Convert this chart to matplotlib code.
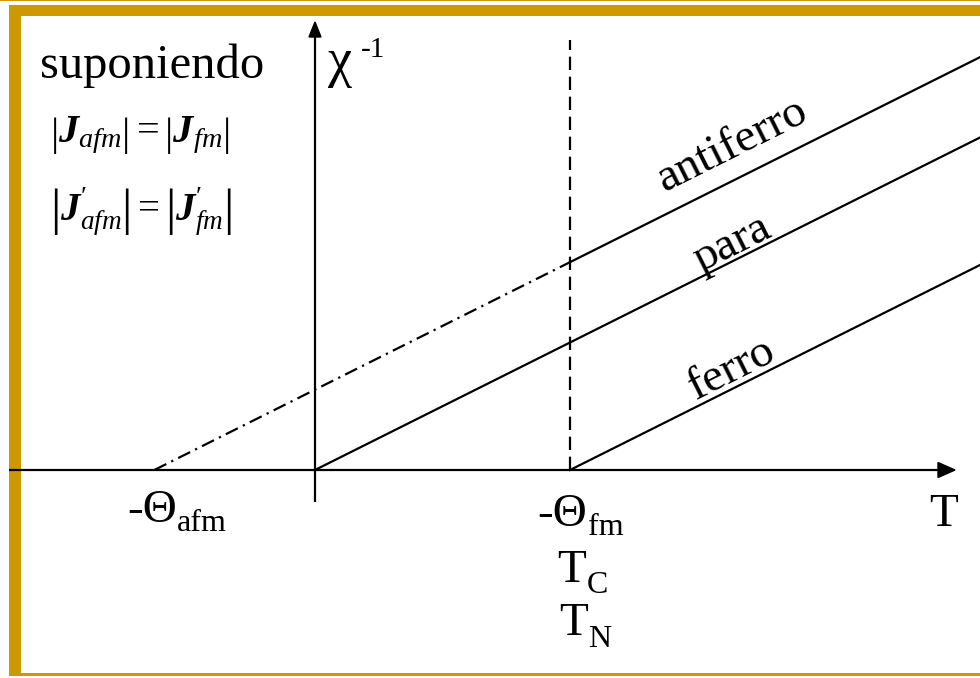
import matplotlib.pyplot as plt
from matplotlib.patches import Rectangle, FancyArrow

plt.rcParams['font.family'] = ['Liberation Serif', 'DejaVu Serif']
plt.rcParams['mathtext.fontset'] = 'custom'
plt.rcParams['mathtext.rm'] = 'Liberation Serif'
plt.rcParams['mathtext.it'] = 'Liberation Serif:italic'
plt.rcParams['mathtext.bf'] = 'Liberation Serif:italic:bold'

# Curie-Weiss lines, T in units of Theta_fm
T_para = [0.0, 2.61]
chi_para = [0.0, 1.305]
T_ferro = [1.0, 2.61]
chi_ferro = [0.0, 0.805]
T_afm_ext = [-0.63, 1.0]
chi_afm_ext = [0.0, 0.815]
T_afm = [1.0, 2.61]
chi_afm = [0.815, 1.62]
T_crit = 1.0

gold = '#CC9900'

fig = plt.figure(figsize=(9.8, 6.78), dpi=100)
ax = fig.add_axes([0, 0, 1, 1])
ax.set_xlim(-315 / 255, 665 / 255)
ax.set_ylim(-208 / 255, 470 / 255)
ax.axis('off')

# frame
W, H = 980, 678
def band(x0, y0, x1, y1):
    fig.patches.append(Rectangle((x0 / W, 1 - y1 / H), (x1 - x0) / W, (y1 - y0) / H,
                                 transform=fig.transFigure, color=gold, lw=0, zorder=-1))
band(0, 0, 980, 1.4)
band(9, 4.7, 980, 15.7)
band(9, 4.7, 21, 676)
band(9, 672.7, 980, 676)

def px(x, y):
    return (x - 315) / 255, (470 - y) / 255

lw = 1.6
# axes with arrows
ax.plot([-306 / 255, 940 / 255 - 315 / 255], [0, 0], color='k', lw=lw, zorder=3, solid_capstyle='butt')
ax.add_patch(FancyArrow(938 / 255 - 315 / 255, 0, 17 / 255, 0, width=0, head_width=15 / 255,
                        head_length=17 / 255, length_includes_head=True, color='k', zorder=3))
ax.plot([0, 0], [-32 / 255, (470 - 38) / 255], color='k', lw=lw, zorder=3, solid_capstyle='butt')
ax.add_patch(FancyArrow(0, (470 - 38) / 255, 0, 16 / 255, width=0, head_width=12 / 255,
                        head_length=15 / 255, length_includes_head=True, color='k', zorder=3))

# lines
ax.plot(T_para, chi_para, color='k', lw=lw)
ax.plot(T_ferro, chi_ferro, color='k', lw=lw)
ax.plot(T_afm, chi_afm, color='k', lw=lw)
ax.plot(T_afm_ext, chi_afm_ext, color='k', lw=lw, linestyle=(0, (6, 2.5, 1, 2.5)))
ax.plot([T_crit, T_crit], [0, 430 / 255], color='k', lw=lw, linestyle=(0, (6, 3)))

fs = 34
sub = 23

def lab(x, y, s, size=fs, **kw):
    ax.text(*px(x, y), s, fontsize=size, ha='left', va='baseline', **kw)

lab(40, 78, 'suponiendo', size=35)
ax.text(*px(50, 135), r'$\left|\mathbf{J}_{afm}\right| = \left|\mathbf{J}_{fm}\right|$',
        fontsize=29, ha='left', va='center')
ax.text(*px(50, 212), r"$\left|\mathbf{J}^{\prime}_{afm}\right| = \left|\mathbf{J}^{\prime}_{fm}\right|$",
        fontsize=28, ha='left', va='center')

lab(328, 76, 'χ', size=39)
lab(361, 57, '-1', size=21)

ax.text(*px(732, 145), 'antiferro', fontsize=fs, rotation=26.6, ha='center', va='center',
        rotation_mode='anchor')
ax.text(*px(732, 244), 'para', fontsize=fs, rotation=26.6, ha='center', va='center',
        rotation_mode='anchor')
ax.text(*px(732, 369), 'ferro', fontsize=fs, rotation=26.6, ha='center', va='center',
        rotation_mode='anchor')

lab(127, 522, '-Θ')
lab(177, 531, 'afm', size=sub)
lab(537, 526, '-Θ')
lab(588, 535, 'fm', size=sub)
lab(929, 526, 'T')
lab(557, 582, 'T')
lab(587, 593, 'C', size=sub)
lab(559, 635, 'T')
lab(588, 647, 'N', size=sub)

fig.savefig('out.png', dpi=100)
